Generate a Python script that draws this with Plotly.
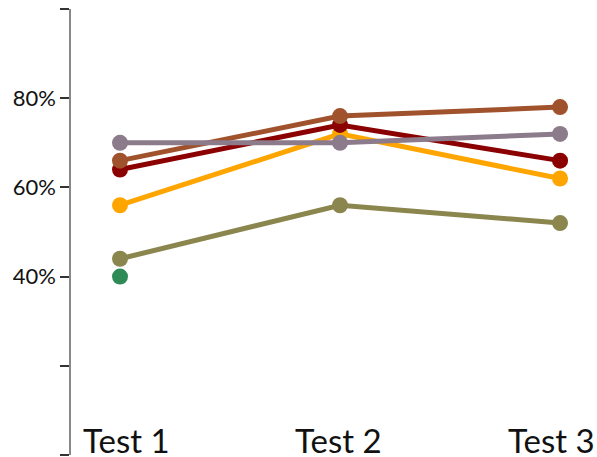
import plotly.graph_objects as go

categories = ["Test 1", "Test 2", "Test 3"]
series_names = ["A", "B", "C", "D", "E", "F"]
series_colors = ["#2E8B57", "#8B864E", "#FFA500", "#8B0000", "#A0522D", "#8B7B8B"]
series_values = [
    [0.40, None, None],
    [0.44, 0.56, 0.52],
    [0.56, 0.72, 0.62],
    [0.64, 0.74, 0.66],
    [0.66, 0.76, 0.78],
    [0.70, 0.70, 0.72],
]
y_tickvals = [0, 0.2, 0.4, 0.6, 0.8, 1.0]
y_ticktext = ["", "", "40%", "60%", "80%", ""]

xpos = list(range(len(categories)))
label_shift = [6, -2, -9]

fig = go.Figure()
for name, color, vals in zip(series_names, series_colors, series_values):
    fig.add_trace(go.Scatter(
        x=xpos, y=vals, mode="lines+markers", name=name,
        line=dict(color=color, width=5),
        marker=dict(color=color, size=16),
        connectgaps=False, showlegend=False, cliponaxis=False,
    ))

for i, c in enumerate(categories):
    fig.add_annotation(x=i, y=0, xref="x", yref="y", text=c, showarrow=False,
                       yanchor="bottom", xanchor="center", yshift=-7,
                       xshift=label_shift[i],
                       font=dict(size=33, color="#111", family="Lato"))

fig.update_layout(
    width=597, height=457,
    margin=dict(l=71, r=0, t=9, b=2, autoexpand=False),
    paper_bgcolor="white", plot_bgcolor="white",
    font=dict(family="Lato", color="#111"),
)
fig.update_xaxes(range=[-0.2227, 2.168], visible=False, automargin=False)
fig.update_yaxes(range=[0, 1], tickvals=y_tickvals, ticktext=y_ticktext,
                 automargin=False,
                 showgrid=False, zeroline=False, showline=True,
                 linecolor="#888", linewidth=1.5, ticks="outside", ticklen=9,
                 tickcolor="#333", tickwidth=1.5,
                 tickfont=dict(size=22, color="#111", family="Lato"))

# remove the browser's default body margin so the figure fills the window exactly
fig.write_html("out.html", config={"displayModeBar": False},
               post_script="document.body.style.margin='0';document.body.style.overflow='hidden';")
